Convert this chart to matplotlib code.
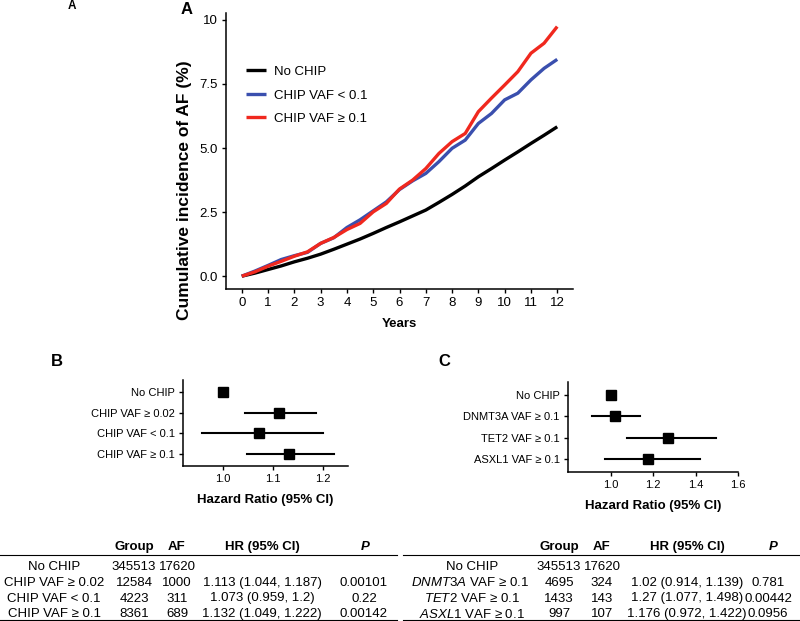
import matplotlib
matplotlib.use("Agg")
from matplotlib import pyplot as plt
from matplotlib.lines import Line2D

plt.rcParams['font.family'] = ['Liberation Sans', 'DejaVu Sans']
plt.rcParams['mathtext.fontset'] = 'custom'
plt.rcParams['mathtext.rm'] = 'Liberation Sans'
plt.rcParams['mathtext.it'] = 'Liberation Sans:italic'
plt.rcParams['mathtext.bf'] = 'Liberation Sans:bold'

GE = '\u2265'

# Panel A - cumulative incidence curves (read at half-year steps)
years = [0, 0.5, 1, 1.5, 2, 2.5, 3, 3.5, 4, 4.5, 5, 5.5, 6, 6.5, 7, 7.5, 8, 8.5, 9, 9.5, 10, 10.5, 11, 11.5, 12]
no_chip = [0, 0.12, 0.26, 0.40, 0.56, 0.70, 0.86, 1.05, 1.25, 1.45, 1.67, 1.90, 2.12, 2.35, 2.58, 2.88, 3.19, 3.52, 3.88, 4.20, 4.53, 4.85, 5.18, 5.50, 5.83]
vaf_low = [0, 0.20, 0.42, 0.65, 0.80, 0.93, 1.28, 1.50, 1.90, 2.20, 2.55, 2.90, 3.38, 3.72, 4.01, 4.47, 4.99, 5.31, 5.96, 6.35, 6.88, 7.14, 7.66, 8.11, 8.46]
vaf_high = [0, 0.17, 0.39, 0.58, 0.78, 0.95, 1.28, 1.51, 1.82, 2.06, 2.51, 2.84, 3.40, 3.75, 4.20, 4.79, 5.25, 5.57, 6.42, 6.95, 7.46, 7.98, 8.70, 9.09, 9.74]
curve_labels = ['No CHIP', 'CHIP VAF < 0.1', 'CHIP VAF ' + GE + ' 0.1']
curve_colors = ['black', '#3a4fae', '#f0281e']

# Panel B - forest plot
b_labels = ['No CHIP', 'CHIP VAF ' + GE + ' 0.02', 'CHIP VAF < 0.1', 'CHIP VAF ' + GE + ' 0.1']
b_hr = [1.0, 1.113, 1.073, 1.132]
b_lo = [None, 1.044, 0.959, 1.049]
b_hi = [None, 1.187, 1.2, 1.222]

# Panel C - forest plot
c_labels = ['No CHIP', 'DNMT3A VAF ' + GE + ' 0.1', 'TET2 VAF ' + GE + ' 0.1', 'ASXL1 VAF ' + GE + ' 0.1']
c_hr = [1.0, 1.02, 1.27, 1.176]
c_lo = [None, 0.914, 1.077, 0.972]
c_hi = [None, 1.139, 1.498, 1.422]

# Tables
b_group = ['345513', '12584', '4223', '8361']
b_af = ['17620', '1000', '311', '689']
b_ci = ['', '1.113 (1.044, 1.187)', '1.073 (0.959, 1.2)', '1.132 (1.049, 1.222)']
b_p = ['', '0.00101', '0.22', '0.00142']
c_tab_labels = ['No CHIP', '$\\it{DNMT3A}$ VAF ' + GE + ' 0.1', '$\\it{TET2}$ VAF ' + GE + ' 0.1',
                '$\\it{ASXL1}$ VAF ' + GE + ' 0.1']
c_group = ['345513', '4695', '1433', '997']
c_af = ['17620', '324', '143', '107']
c_ci = ['', '1.02 (0.914, 1.139)', '1.27 (1.077, 1.498)', '1.176 (0.972, 1.422)']
c_p = ['', '0.781', '0.00442', '0.0956']

W, H = 800, 621
fig = plt.figure(figsize=(8, 6.21), dpi=100)


def fx(px):
    return px / W


def fy(py):
    return 1 - py / H


def style_axes(ax, size):
    for s in ['top', 'right']:
        ax.spines[s].set_visible(False)
    for s in ['left', 'bottom']:
        ax.spines[s].set_linewidth(1.1)
    ax.tick_params(direction='out', length=3, width=1, labelsize=size, colors='black', pad=3)


# ---- Panel A ----
axA = fig.add_axes([fx(226), fy(289), fx(573 - 226), fy(13) - fy(289)])
for vals, lab, col in zip([no_chip, vaf_low, vaf_high], curve_labels, curve_colors):
    axA.plot(years, vals, color=col, lw=2.4, label=lab, solid_capstyle='butt')
axA.set_xlim(-0.6, 12.6)
axA.set_ylim(-0.5, 10.27)
axA.set_xticks(range(0, 13))
axA.set_yticks([0, 2.5, 5, 7.5, 10])
axA.set_yticklabels(['0.0', '2.5', '5.0', '7.5', '10'])
style_axes(axA, 9.5)
axA.set_xlabel('Years', fontweight='bold', fontsize=9.5, labelpad=6)
fig.text(fx(185), fy(190), 'Cumulative incidence of AF (%)', rotation=90,
         fontweight='bold', fontsize=12.5, ha='center', va='center')
axA.legend(loc='upper left', bbox_to_anchor=(fx(234), fy(54)), bbox_transform=fig.transFigure,
           frameon=False, fontsize=9.5, handlelength=1.5, handletextpad=0.6, labelspacing=0.85)
fig.text(fx(187), fy(10), 'A', fontweight='bold', fontsize=12, ha='center', va='center')
fig.text(fx(72), fy(6), 'A', fontweight='bold', fontsize=8.5, ha='center', va='center')


def forest(ax, labels, hr, lo, hi):
    ypos = list(range(1, len(labels) + 1))
    for y, h, l, u in zip(ypos, hr, lo, hi):
        if l is not None:
            ax.plot([l, u], [y, y], color='black', lw=1.5)
    ax.plot(hr, ypos, 's', color='black', markersize=6.5)
    ax.set_yticks(ypos)
    ax.set_yticklabels(labels)
    ax.set_ylim(4.6, 0.4)
    style_axes(ax, 8)


# ---- Panel B ----
axB = fig.add_axes([fx(183), fy(466), fx(348 - 183), fy(380) - fy(466)])
forest(axB, b_labels, b_hr, b_lo, b_hi)
axB.set_xlim(0.92, 1.251)
axB.set_xticks([1.0, 1.1, 1.2])
axB.set_xticklabels(['1.0', '1.1', '1.2'])
axB.set_xlabel('Hazard Ratio (95% CI)', fontweight='bold', fontsize=9.5, labelpad=7)
fig.text(fx(57), fy(362), 'B', fontweight='bold', fontsize=12, ha='center', va='center')

# ---- Panel C ----
axC = fig.add_axes([fx(568), fy(472), fx(738 - 568), fy(382) - fy(472)])
forest(axC, c_labels, c_hr, c_lo, c_hi)
axC.set_xlim(0.8, 1.6)
axC.set_xticks([1.0, 1.2, 1.4, 1.6])
axC.set_xticklabels(['1.0', '1.2', '1.4', '1.6'])
axC.set_xlabel('Hazard Ratio (95% CI)', fontweight='bold', fontsize=9.5, labelpad=7)
fig.text(fx(444), fy(362), 'C', fontweight='bold', fontsize=12, ha='center', va='center')

# ---- Tables ----
row_y = [567, 583, 598.5, 614]
head_y = 547
ts = 9.5


def table(x_cols, label_x, labels, group, af, ci, p, x0, x1, p_head_x):
    for hx, ht in zip(x_cols[:3], ['Group', 'AF', 'HR (95% CI)']):
        fig.text(fx(hx), fy(head_y), ht, fontweight='bold', fontsize=ts, ha='center', va='center')
    fig.text(fx(p_head_x), fy(head_y), 'P', fontweight='bold', fontstyle='italic', fontsize=ts,
             ha='center', va='center')
    for i, y in enumerate(row_y):
        fig.text(fx(label_x[i]), fy(y), labels[i], fontsize=ts, ha='center', va='center')
        for cx, col in zip(x_cols, [group, af, ci, p]):
            fig.text(fx(cx), fy(y), col[i], fontsize=ts, ha='center', va='center')
    for ly in [555, 619.5]:
        fig.add_artist(Line2D([fx(x0), fx(x1)], [fy(ly), fy(ly)], color='black', lw=0.8,
                              transform=fig.transFigure))


table([134, 177, 262, 364], [54, 54, 54, 54], b_labels, b_group, b_af, b_ci, b_p, 0, 397, 365)
table([559, 602, 687, 768], [472, 470, 472, 472], c_tab_labels, c_group, c_af, c_ci, c_p, 403, 800, 773)

plt.savefig('out.png', dpi=100)
